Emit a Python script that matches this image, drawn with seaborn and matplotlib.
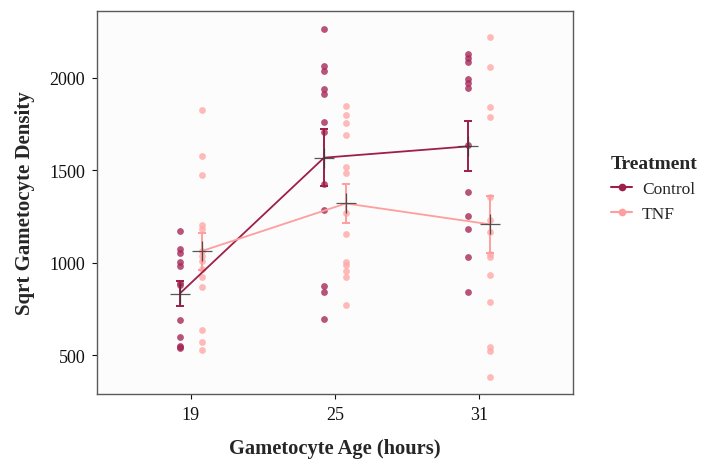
import numpy as np
import pandas as pd
import matplotlib
matplotlib.use("Agg")
import matplotlib.pyplot as plt
from matplotlib.lines import Line2D
import seaborn as sns

# Gametocyte age groups (hours)
ages = [19, 25, 31]
treatments = ["Control", "TNF"]

# Square-root gametocyte density per sample
control_19 = [1174, 1077, 1055, 1006, 985, 893, 882, 693, 601, 552, 545, 541]
control_25 = [2265, 2067, 2040, 1940, 1913, 1760, 1707, 1427, 1288, 877, 842, 696]
control_31 = [2130, 2107, 2085, 1995, 1971, 1946, 1637, 1382, 1252, 1180, 1030, 844]
tnf_19 = [1827, 1575, 1477, 1207, 1183, 1066, 1039, 1012, 967, 925, 871, 637, 570, 528]
tnf_25 = [1847, 1800, 1757, 1693, 1517, 1486, 1270, 1156, 1006, 988, 958, 922, 772]
tnf_31 = [2220, 2058, 1845, 1787, 1354, 1232, 1165, 1048, 1030, 934, 786, 543, 522, 384]

palette = {"Control": "#9E1F48", "TNF": "#FF9E9E"}
point_colors = {"Control": "#A52A5A", "TNF": "#FFA8A8"}
dodge = {"Control": -0.076, "TNF": 0.076}

groups = {
    ("Control", 19): control_19, ("Control", 25): control_25, ("Control", 31): control_31,
    ("TNF", 19): tnf_19, ("TNF", 25): tnf_25, ("TNF", 31): tnf_31,
}
rows = []
for (trt, age), vals in groups.items():
    for v in vals:
        rows.append({"Treatment": trt, "Age": age, "Density": v})
df = pd.DataFrame(rows)
df["xpos"] = df["Age"].map({a: i for i, a in enumerate(ages)}) + df["Treatment"].map(dodge)

sns.set_theme(style="white")
plt.rcParams["font.family"] = ["Liberation Serif", "DejaVu Serif"]

fig = plt.figure(figsize=(7.01, 4.64), dpi=100)
ax = fig.add_axes([0.1384, 0.1487, 0.8174 - 0.1384, 0.9741 - 0.1487])
ax.set_facecolor("#FCFCFC")

# raw observations
for trt in treatments:
    sub = df[df["Treatment"] == trt]
    sns.scatterplot(data=sub, x="xpos", y="Density", color=point_colors[trt],
                    s=24, alpha=0.8, linewidth=0, ax=ax, legend=False, zorder=2)

# group means joined by lines, with standard-error bars
sns.lineplot(data=df, x="xpos", y="Density", hue="Treatment", palette=palette,
             errorbar="se", err_style="bars", linewidth=1.3, legend=False, ax=ax,
             err_kws={"capsize": 3, "elinewidth": 1.4, "capthick": 1.4}, zorder=3)

# mean markers
means = df.groupby(["Treatment", "Age"], as_index=False).agg(Density=("Density", "mean"),
                                                              xpos=("xpos", "first"))
ax.scatter(means["xpos"], means["Density"], marker="+", s=200, color="#3A3A3A",
           linewidths=0.9, alpha=0.85, zorder=4)

ax.set_xlim(-0.65, 2.65)
ax.set_ylim(290, 2362)
ax.set_xticks(range(len(ages)))
ax.set_xticklabels([str(a) for a in ages])
ax.set_yticks([500, 1000, 1500, 2000])
ax.tick_params(axis="both", labelsize=13, colors="#111111", length=3.5, width=0.8,
               direction="out", bottom=True, left=True, pad=5)
for sp in ax.spines.values():
    sp.set_color("#5A5A5A")
    sp.set_linewidth(1.0)

ax.set_xlabel("Gametocyte Age (hours)", fontsize=14.8, fontweight="bold", labelpad=11)
ax.set_ylabel("Sqrt Gametocyte Density", fontsize=15, fontweight="bold", labelpad=10)

handles = [Line2D([], [], color=palette[t], marker="o", markersize=4.5, linewidth=1.5)
           for t in treatments]
leg = fig.legend(handles, treatments, title="Treatment", loc="upper left",
                 bbox_to_anchor=(0.849, 0.697), frameon=False, fontsize=12.5,
                 title_fontproperties={"weight": "bold", "size": 14},
                 handlelength=1.25, handletextpad=0.55, labelspacing=0.5)
leg._legend_box.align = "left"

fig.savefig("out.png", dpi=100, facecolor="white")
